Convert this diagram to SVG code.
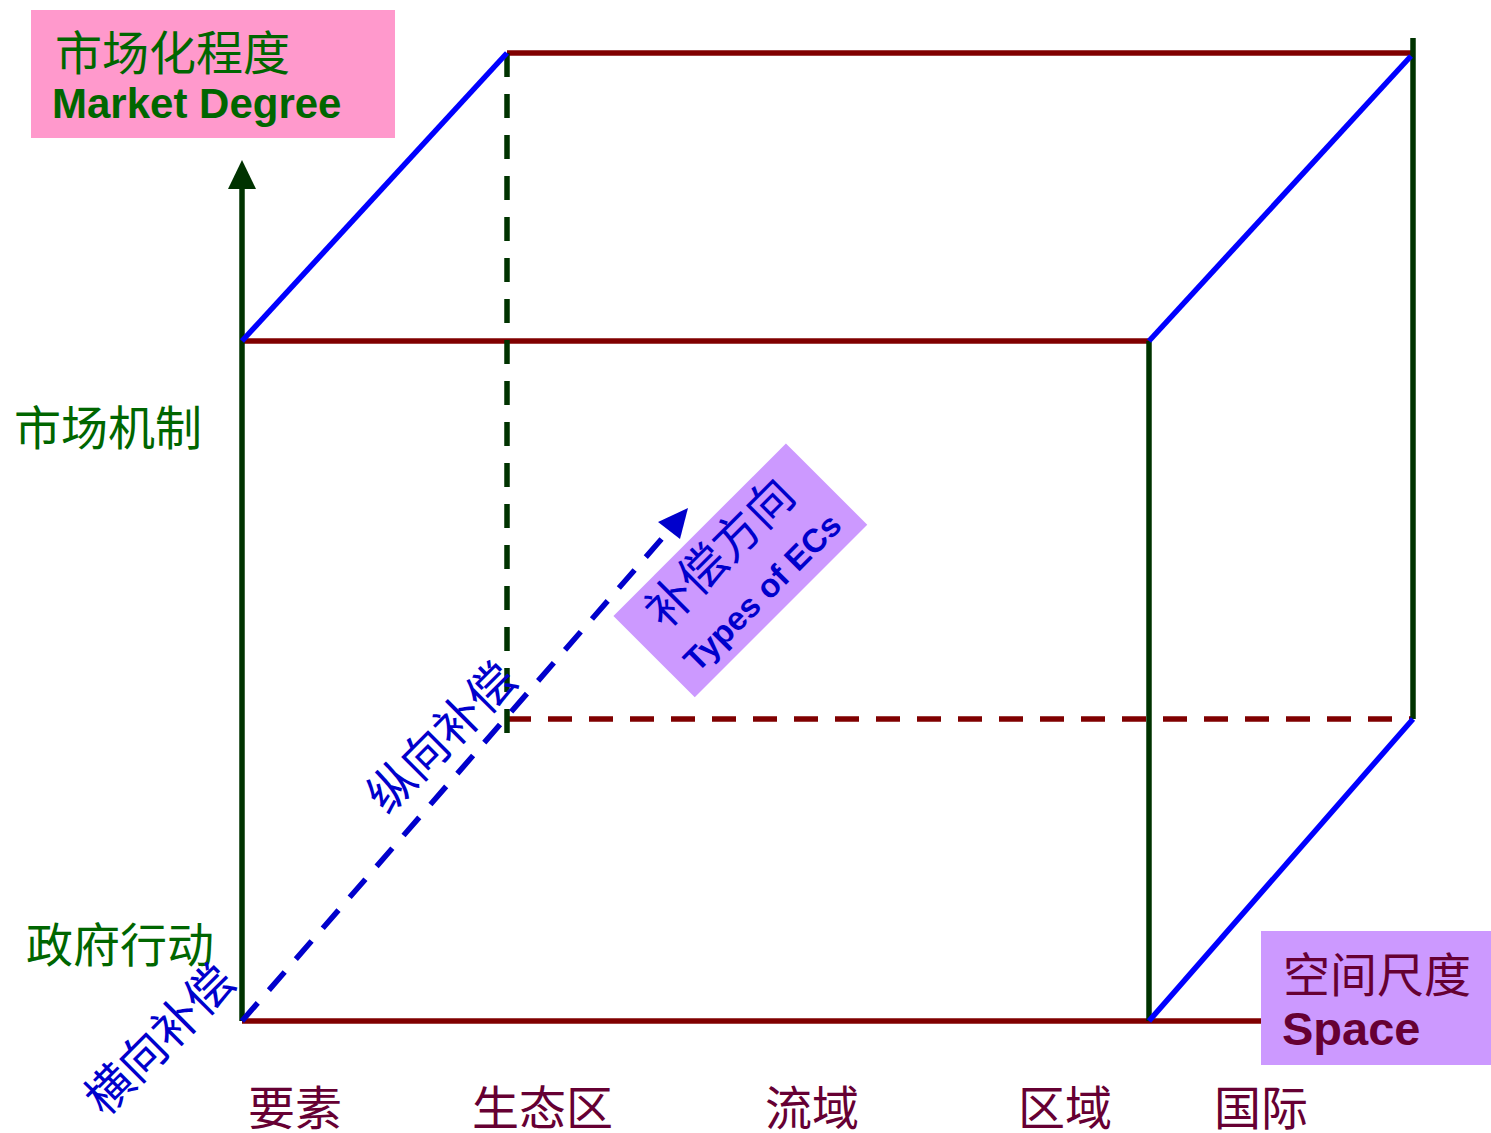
<svg xmlns="http://www.w3.org/2000/svg" width="1491" height="1133" viewBox="0 0 1491 1133">
<style>
.red{stroke:#800000;stroke-width:5.5;fill:none}
.grn{stroke:#003300;stroke-width:5.5;fill:none}
.blu{stroke:#0000FF;stroke-width:5.5;fill:none}
.dash{stroke-dasharray:24 17}
.cn{font-family:"Liberation Serif","Noto Sans CJK SC",serif;font-size:47px}
.en{font-family:"Liberation Sans",Arial,sans-serif;font-weight:bold}
.g{fill:#006600}
.m{fill:#660033}
.b{fill:#0000CC}
</style>
<g id="connectors">
<line class="red" x1="242" y1="1021" x2="1262" y2="1021"/>
<line class="red" x1="242" y1="341" x2="1149" y2="341"/>
<line class="red" x1="507" y1="53" x2="1413" y2="53"/>
<line class="red dash" x1="507" y1="719" x2="1413" y2="719"/>
<line class="grn dash" x1="507" y1="53" x2="507" y2="735"/>
<line class="grn" x1="242" y1="1021" x2="242" y2="185"/>
<polygon points="242,160 228,189 256,189" fill="#003300"/>
<line class="grn" x1="1149" y1="341" x2="1149" y2="1021"/>
<line class="grn" x1="1413" y1="38" x2="1413" y2="719"/>
<line class="blu" x1="242" y1="341" x2="507" y2="53"/>
<line class="blu" x1="1149" y1="341" x2="1411" y2="56"/>
<line class="blu" x1="1149" y1="1021" x2="1413" y2="719"/>
<line stroke="#0000CC" stroke-width="5.5" stroke-dasharray="24 17" x1="242" y1="1021" x2="672" y2="527"/>
<polygon points="688,508 658,522 680,539" fill="#0000CC"/>
</g>
<g id="market-degree">
<rect x="31" y="10" width="364" height="128" fill="#FF99CC"/>
<text class="cn g" x="55" y="70">市场化程度</text>
<text class="en g" x="52" y="118" font-size="42">Market Degree</text>
</g>
<g id="space">
<rect x="1261" y="931" width="230" height="134" fill="#CC99FF"/>
<text class="cn m" x="1283" y="992">空间尺度</text>
<text class="en m" x="1282" y="1045" font-size="47">Space</text>
</g>
<g id="types" transform="translate(740,570) rotate(-45)">
<rect x="-122" y="-57" width="244" height="115" fill="#CC99FF"/>
<text class="cn b" x="-2" y="-10" text-anchor="middle" font-size="49">补偿方向</text>
<text class="en b" x="0" y="43" font-size="33" text-anchor="middle">Types of ECs</text>
</g>
<g id="axis-labels">
<text class="cn g" x="14" y="445">市场机制</text>
<text class="cn g" x="26" y="962">政府行动</text>
<text class="cn b" transform="translate(442,738) rotate(-45)" text-anchor="middle" y="16">纵向补偿</text>
<text class="cn b" transform="translate(160,1040) rotate(-45)" text-anchor="middle" y="16">横向补偿</text>
<text class="cn m" x="248" y="1125">要素</text>
<text class="cn m" x="472" y="1125">生态区</text>
<text class="cn m" x="765" y="1125">流域</text>
<text class="cn m" x="1018" y="1125">区域</text>
<text class="cn m" x="1214" y="1125">国际</text>
</g>
</svg>
